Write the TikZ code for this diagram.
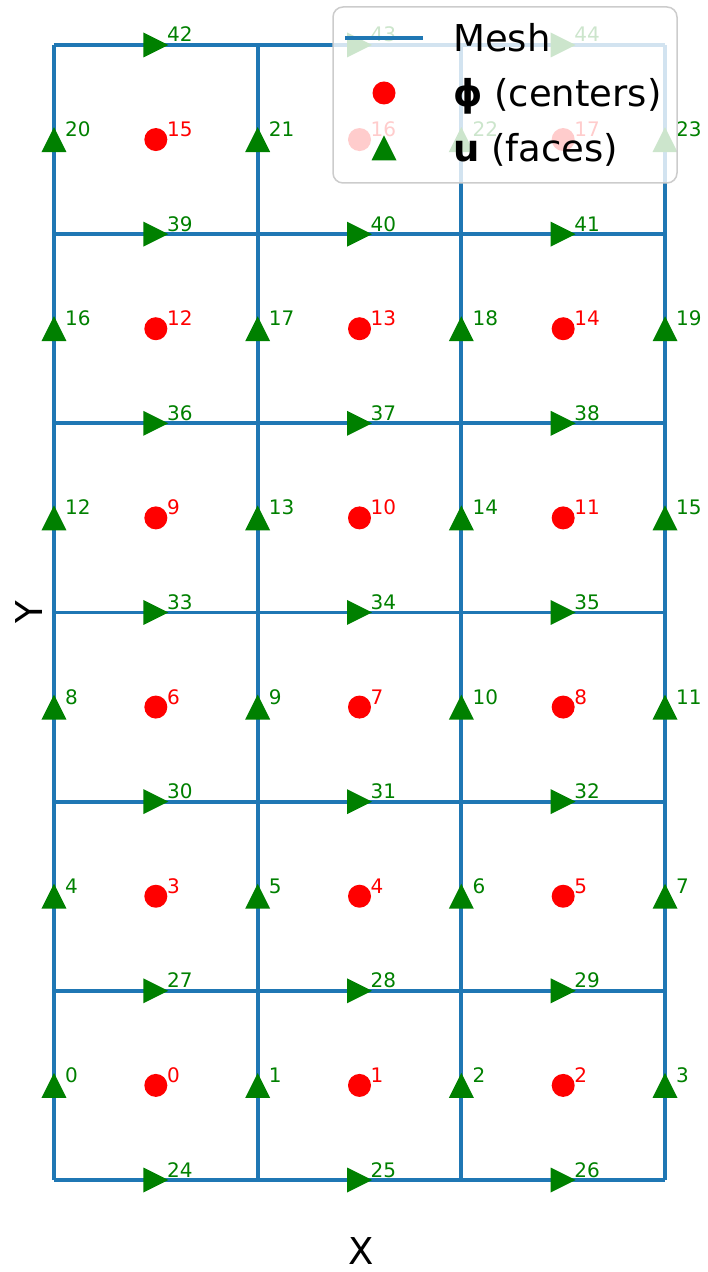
\documentclass[tikz,border=0pt]{standalone}
\usepackage{fontspec}
\setmainfont{DejaVu Sans}
\usepackage{xcolor}
\usetikzlibrary{positioning}
\definecolor{meshblue}{HTML}{1F77B4}
\definecolor{ugreen}{HTML}{008000}
\definecolor{phired}{HTML}{FF0000}
\definecolor{legendgray}{HTML}{CCCCCC}
\tikzset{
    mesh/.style={draw=meshblue, line width=3.8pt},
    phidot/.style={
        circle, fill=phired,
        minimum size=23pt, inner sep=0pt
    },
    uptri/.pic={\fill[ugreen] (0,12.5pt) -- (-12.5pt,-12.5pt) -- (12.5pt,-12.5pt) -- cycle;},
    righttri/.pic={\fill[ugreen] (12.5pt,0) -- (-12.5pt,12.5pt) -- (-12.5pt,-12.5pt) -- cycle;},
    idxlabel/.style={anchor=base west, inner sep=0pt, font=\fontsize{20}{24}\selectfont},
    philabel/.style={idxlabel, text=phired},
    ulabel/.style={idxlabel, text=ugreen},
    legendbox/.style={
        rectangle, rounded corners=10pt,
        draw=legendgray, line width=1.5pt,
        fill=white, fill opacity=0.8,
        minimum width=344pt, minimum height=176pt
    },
    legendtext/.style={anchor=base west, inner sep=0pt, font=\fontsize{37}{44}\selectfont},
    axislabel/.style={inner sep=0pt, font=\fontsize{37}{44}\selectfont},
}

\begin{document}
\begin{tikzpicture}[x=203.67pt, y=189.17pt]
    \useasboundingbox (-54pt,-92pt) rectangle (654pt,1180pt);

    % Mesh points
    \foreach \i in {0,...,3}
        \foreach \j in {0,...,6}
            \coordinate (g\i-\j) at (\i,\j);

    % Mesh lines
    \foreach \j in {0,...,6}
        \draw[mesh] (g0-\j) -- (g3-\j);
    \foreach \i in {0,...,3}
        \draw[mesh] (g\i-0) -- (g\i-6);

    % Cell centers (phi)
    \foreach \j in {0,...,5}
        \foreach \i in {0,1,2} {
            \pgfmathtruncatemacro\n{3*\j+\i}
            \node[phidot] (c\n) at (\i+0.5,\j+0.5) {};
            \node[philabel] at ([shift={(11pt,3pt)}]c\n.center) {\n};
        }

    % Vertical faces (u)
    \foreach \j in {0,...,5}
        \foreach \i in {0,...,3} {
            \pgfmathtruncatemacro\n{4*\j+\i}
            \coordinate (f\n) at (\i,\j+0.5);
            \pic at (f\n) {uptri};
            \node[ulabel] at ([shift={(11pt,3pt)}]f\n) {\n};
        }

    % Horizontal faces (u)
    \foreach \j in {0,...,6}
        \foreach \i in {0,1,2} {
            \pgfmathtruncatemacro\n{24+3*\j+\i}
            \coordinate (f\n) at (\i+0.5,\j);
            \pic at (f\n) {righttri};
            \node[ulabel] at ([shift={(11pt,3pt)}]f\n) {\n};
        }

    % Axis labels
    \node[axislabel] (xlabel) at (307pt,-71.5pt) {X};
    \node[axislabel, rotate=90] (ylabel) at (-25pt,568pt) {Y};

    % Legend
    \node[legendbox] (legend) at (451pt,1085pt) {};
    \coordinate (legmeshA) at (291pt,1142pt);
    \coordinate (legmeshB) at (369pt,1142pt);
    \draw[mesh] (legmeshA) -- (legmeshB);
    \node[phidot] (legphi) at (330pt,1087pt) {};
    \coordinate (legu) at (330pt,1032pt);
    \pic at (legu) {uptri};
    \node[legendtext] (legmeshtext) at (399pt,1128pt) {Mesh};
    \node[legendtext] (legphitext) at (399pt,1073pt) {\textbf{ϕ} (centers)};
    \node[legendtext] (legutext) at (399pt,1018pt) {\textbf{u} (faces)};

\end{tikzpicture}
\end{document}
